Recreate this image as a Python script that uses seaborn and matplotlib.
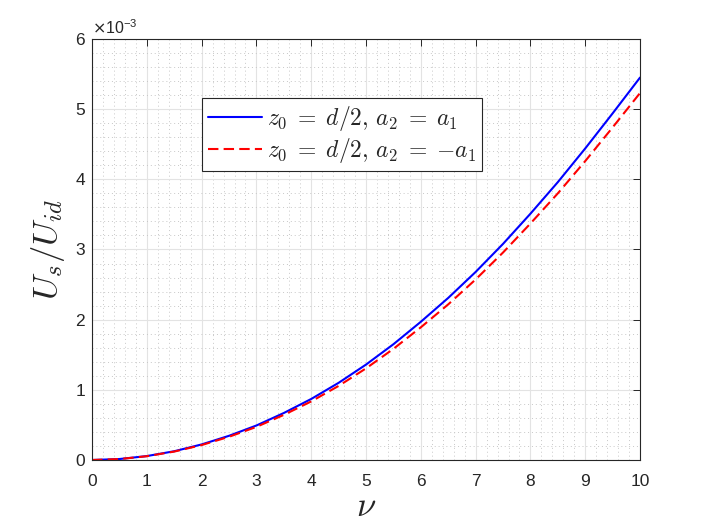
import numpy as np
import pandas as pd
import matplotlib
matplotlib.use("Agg")
import matplotlib.pyplot as plt
import seaborn as sns
from matplotlib.ticker import AutoMinorLocator
from matplotlib.lines import Line2D

# Data (values in units of 1e-3)
nu = [0, 0.5, 1, 1.5, 2, 2.5, 3, 3.5, 4, 4.5, 5, 5.5, 6, 6.5, 7, 7.5, 8, 8.5, 9, 9.5, 10]
us_pos = [0, 0.014, 0.056, 0.125, 0.222, 0.345, 0.492, 0.67, 0.87, 1.10, 1.36,
          1.65, 1.97, 2.31, 2.68, 3.08, 3.51, 3.96, 4.44, 4.94, 5.45]
us_neg = [0, 0.0134, 0.054, 0.12, 0.213, 0.331, 0.472, 0.643, 0.835, 1.056, 1.306,
          1.584, 1.891, 2.218, 2.573, 2.957, 3.37, 3.80, 4.26, 4.74, 5.23]
labels = [r"$z_0 \;=\; d/2,\, a_2 \;=\; a_1$", r"$z_0 \;=\; d/2,\, a_2 \;=\; {-}a_1$"]
xticks = list(range(0, 11))
yticks = list(range(0, 7))

sns.set_style("white")
plt.rcParams["font.family"] = ["Liberation Sans", "DejaVu Sans"]
plt.rcParams["mathtext.fontset"] = "cm"

df = pd.DataFrame({
    "nu": nu * 2,
    "val": us_pos + us_neg,
    "series": [labels[0]] * len(nu) + [labels[1]] * len(nu),
})

fig = plt.figure(figsize=(7.08, 5.31), dpi=100)
ax = fig.add_axes([0.130, 0.1337, 0.774, 0.7929])

sns.lineplot(data=df, x="nu", y="val", hue="series", style="series",
             palette={labels[0]: "#0000ff", labels[1]: "#ff0000"},
             dashes={labels[0]: "", labels[1]: (5, 2.5)},
             linewidth=1.5, ax=ax, legend=False)

ax.set_xlim(0, 10)
ax.set_ylim(0, 6)
ax.set_xticks(xticks)
ax.set_yticks(yticks)
ax.xaxis.set_minor_locator(AutoMinorLocator(5))
ax.yaxis.set_minor_locator(AutoMinorLocator(5))
ax.grid(which="major", color="#e3e3e3", linewidth=0.8, linestyle="-")
ax.grid(which="minor", color="#c8c8c8", linewidth=0.7, linestyle=(0, (1, 3)))
ax.set_axisbelow(True)
ax.tick_params(which="major", direction="in", length=5, width=0.7, colors="#262626",
               top=True, right=True, labelsize=12.5)
ax.tick_params(axis="x", which="major", pad=10)
ax.tick_params(axis="y", which="major", pad=5)
ax.tick_params(which="minor", length=0, top=True, right=True)
for s in ax.spines.values():
    s.set_color("#262626")
    s.set_linewidth(0.8)

ax.set_xlabel(r"$\nu$", fontsize=25, labelpad=1)
ax.set_ylabel(r"$U_s/U_{id}$", fontsize=25, labelpad=6)
ax.text(0.0, 1.004, r"$\times$10$^{\mathregular{-3}}$", transform=ax.transAxes,
        fontsize=11.5, ha="left", va="bottom", color="#262626",
        math_fontfamily="dejavusans")

handles = [Line2D([], [], color="#0000ff", lw=1.5),
           Line2D([], [], color="#ff0000", lw=1.5, linestyle=(0, (5, 2.5)))]
leg = ax.legend(handles, labels, loc="upper left", bbox_to_anchor=(0.2, 0.86),
                fontsize=17, frameon=True, fancybox=False, framealpha=1,
                edgecolor="#262626", handlelength=2.3, handletextpad=0.2,
                borderpad=0.25, labelspacing=0.15, borderaxespad=0)
leg.get_frame().set_linewidth(0.8)

fig.savefig("out.png", dpi=100)
